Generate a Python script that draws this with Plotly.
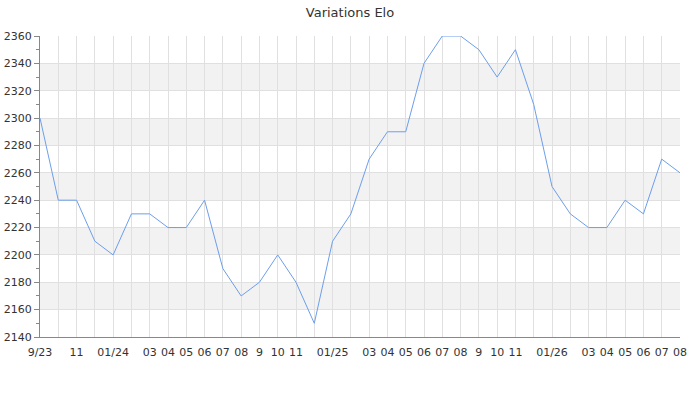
import plotly.graph_objects as go

months = ["2023-09", "2023-10", "2023-11", "2023-12", "2024-01", "2024-02", "2024-03", "2024-04",
          "2024-05", "2024-06", "2024-07", "2024-08", "2024-09", "2024-10", "2024-11", "2024-12",
          "2025-01", "2025-02", "2025-03", "2025-04", "2025-05", "2025-06", "2025-07", "2025-08",
          "2025-09", "2025-10", "2025-11", "2025-12", "2026-01", "2026-02", "2026-03", "2026-04",
          "2026-05", "2026-06", "2026-07", "2026-08"]
elo = [2300, 2240, 2240, 2210, 2200, 2230, 2230, 2220, 2220, 2240, 2190, 2170, 2180, 2200, 2180, 2150,
       2210, 2230, 2270, 2290, 2290, 2340, 2360, 2360, 2350, 2330, 2350, 2310, 2250, 2230, 2220, 2220,
       2240, 2230, 2270, 2260]

tick_months = ["2023-09", "2023-11", "2024-01", "2024-03", "2024-04", "2024-05", "2024-06", "2024-07",
               "2024-08", "2024-09", "2024-10", "2024-11", "2025-01", "2025-03", "2025-04", "2025-05",
               "2025-06", "2025-07", "2025-08", "2025-09", "2025-10", "2025-11", "2026-01", "2026-03",
               "2026-04", "2026-05", "2026-06", "2026-07", "2026-08"]
tick_labels = ["9/23", "11", "01/24", "03", "04", "05", "06", "07", "08", "9", "10", "11", "01/25",
               "03", "04", "05", "06", "07", "08", "9", "10", "11", "01/26", "03", "04", "05", "06",
               "07", "08"]

y_min, y_max, y_step = 2140, 2360, 20

x_idx = list(range(len(months)))
tick_idx = [months.index(m) for m in tick_months]

fig = go.Figure()
fig.add_trace(go.Scatter(
    x=x_idx, y=elo, mode="lines",
    line=dict(color="#6d9eeb", width=1),
    hoverinfo="y", showlegend=False,
))

# alternating horizontal bands
shapes = []
levels = list(range(y_min, y_max + 1, y_step))
for i in range(len(levels) - 1):
    if i % 2 == 1:
        shapes.append(dict(type="rect", xref="paper", yref="y", x0=0, x1=1,
                           y0=levels[i], y1=levels[i + 1], fillcolor="#f2f2f2",
                           line=dict(width=0), layer="below"))

fig.update_layout(
    width=700, height=400,
    margin=dict(l=40, r=20, t=36, b=63),
    paper_bgcolor="white", plot_bgcolor="white",
    font=dict(family="DejaVu Sans", size=11, color="#333333"),
    title=dict(text="Variations Elo", x=0.5, xanchor="center", y=1 - 12 / 400, yanchor="middle",
               font=dict(family="DejaVu Sans", size=13, color="#333333")),
    shapes=shapes,
    xaxis=dict(
        range=[0, len(months) - 1],
        tickmode="array", tickvals=tick_idx, ticktext=tick_labels,
        showgrid=True, gridcolor="#e0e0e0", gridwidth=1,
        minor=dict(dtick=1, tick0=0, showgrid=True, gridcolor="#e0e0e0", gridwidth=1, ticks=""),
        showline=True, linecolor="#888888", linewidth=1,
        ticks="", zeroline=False, tickangle=0, automargin=False,
        ticklabelstandoff=5,
        tickfont=dict(size=11, color="#333333"),
    ),
    yaxis=dict(
        range=[y_min, y_max],
        tick0=y_min, dtick=y_step,
        showgrid=True, gridcolor="#e0e0e0", gridwidth=1,
        showline=True, linecolor="#888888", linewidth=1,
        ticks="outside", ticklen=5, tickcolor="#888888",
        minor=dict(dtick=10, ticks="outside", ticklen=3, tickcolor="#888888", showgrid=False),
        zeroline=False, automargin=False,
        tickfont=dict(size=11, color="#333333"),
    ),
)

fig.write_html("out.html", config={"displayModeBar": False},
               post_script="document.body.style.margin='0';")
